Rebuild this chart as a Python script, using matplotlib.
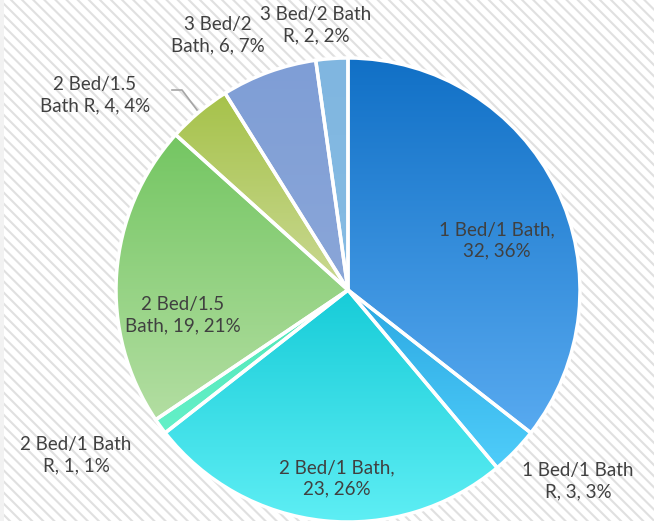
import numpy as np
import matplotlib
matplotlib.use("Agg")
import matplotlib.pyplot as plt
from matplotlib.colors import LinearSegmentedColormap
from matplotlib.patches import Rectangle

categories = ["1 Bed/1 Bath", "1 Bed/1 Bath R", "2 Bed/1 Bath", "2 Bed/1 Bath R",
              "2 Bed/1.5 Bath", "2 Bed/1.5 Bath R", "3 Bed/2 Bath", "3 Bed/2 Bath R"]
values = [32, 3, 23, 1, 19, 4, 6, 2]
label_texts = ["1 Bed/1 Bath,\n32, 36%", "1 Bed/1 Bath\nR, 3, 3%", "2 Bed/1 Bath,\n23, 26%",
               "2 Bed/1 Bath\nR, 1, 1%", "2 Bed/1.5\nBath, 19, 21%", "2 Bed/1.5\nBath R, 4, 4%",
               "3 Bed/2\nBath, 6, 7%", "3 Bed/2 Bath\nR, 2, 2%"]

top_colors = ["#1170C6", "#2BA8E2", "#17CCD8", "#4FE6B6", "#74C662", "#A6C24A", "#7F9ED6", "#80B6E0"]
bot_colors = ["#58AAF0", "#4FCDFA", "#5EEEF4", "#64F0C8", "#B3DEA2", "#CAD994", "#8AA6D8", "#86BCE3"]

# label positions in image pixels (x, y from top)
label_pos = [(497, 240), (578, 481), (337, 478), (76, 455), (183, 315), (95, 95), (218, 35), (316, 25)]

W, H = 654, 521
fig = plt.figure(figsize=(W / 100, H / 100), dpi=100)
fig.patch.set_facecolor("white")
ax = fig.add_axes([0, 0, 1, 1])

plt.rcParams["hatch.linewidth"] = 1.5
bg = Rectangle((0, 0), W, H, facecolor="white", edgecolor="#E0E0E0", hatch="\\\\\\", linewidth=0, zorder=0)
ax.add_patch(bg)
ax.add_patch(Rectangle((0, 0), 4, H, facecolor="#F2F2F2", linewidth=0, zorder=0.5))

cx, cy, R = 348, H - 290, 232
wedges, _ = ax.pie(values, startangle=90, counterclock=False, radius=R, center=(cx, cy),
                   wedgeprops=dict(edgecolor="white", linewidth=2.5), frame=True)

for w, c1, c2 in zip(wedges, top_colors, bot_colors):
    t1, t2 = sorted([w.theta1, w.theta2])
    ang = np.radians(np.linspace(t1, t2, 200))
    xs = np.concatenate([[cx], cx + R * np.cos(ang)])
    ys = np.concatenate([[cy], cy + R * np.sin(ang)])
    x0, x1, y0, y1 = xs.min(), xs.max(), ys.min(), ys.max()
    cmap = LinearSegmentedColormap.from_list("g", [c2, c1])
    grad = np.linspace(0, 1, 256).reshape(-1, 1)
    im = ax.imshow(grad, cmap=cmap, extent=(x0, x1, y0, y1), origin="lower",
                   aspect="auto", zorder=1, interpolation="bilinear")
    im.set_clip_path(w)
    w.set_facecolor("none")
    w.set_zorder(2)

ax.set_xlim(0, W)
ax.set_ylim(0, H)
ax.set_aspect("auto")
ax.axis("off")

for txt, (px, py) in zip(label_texts, label_pos):
    ax.text(px, H - py, txt, ha="center", va="center", fontsize=13.5, color="#404040",
            family="Lato", linespacing=1.3, zorder=5)

# leader line for 2 Bed/1.5 Bath R
ax.plot([172, 182, 197], [H - 90, H - 90, H - 110], color="#A6A6A6", linewidth=1.2, zorder=4)

fig.savefig("out.png", dpi=100, facecolor="white")
